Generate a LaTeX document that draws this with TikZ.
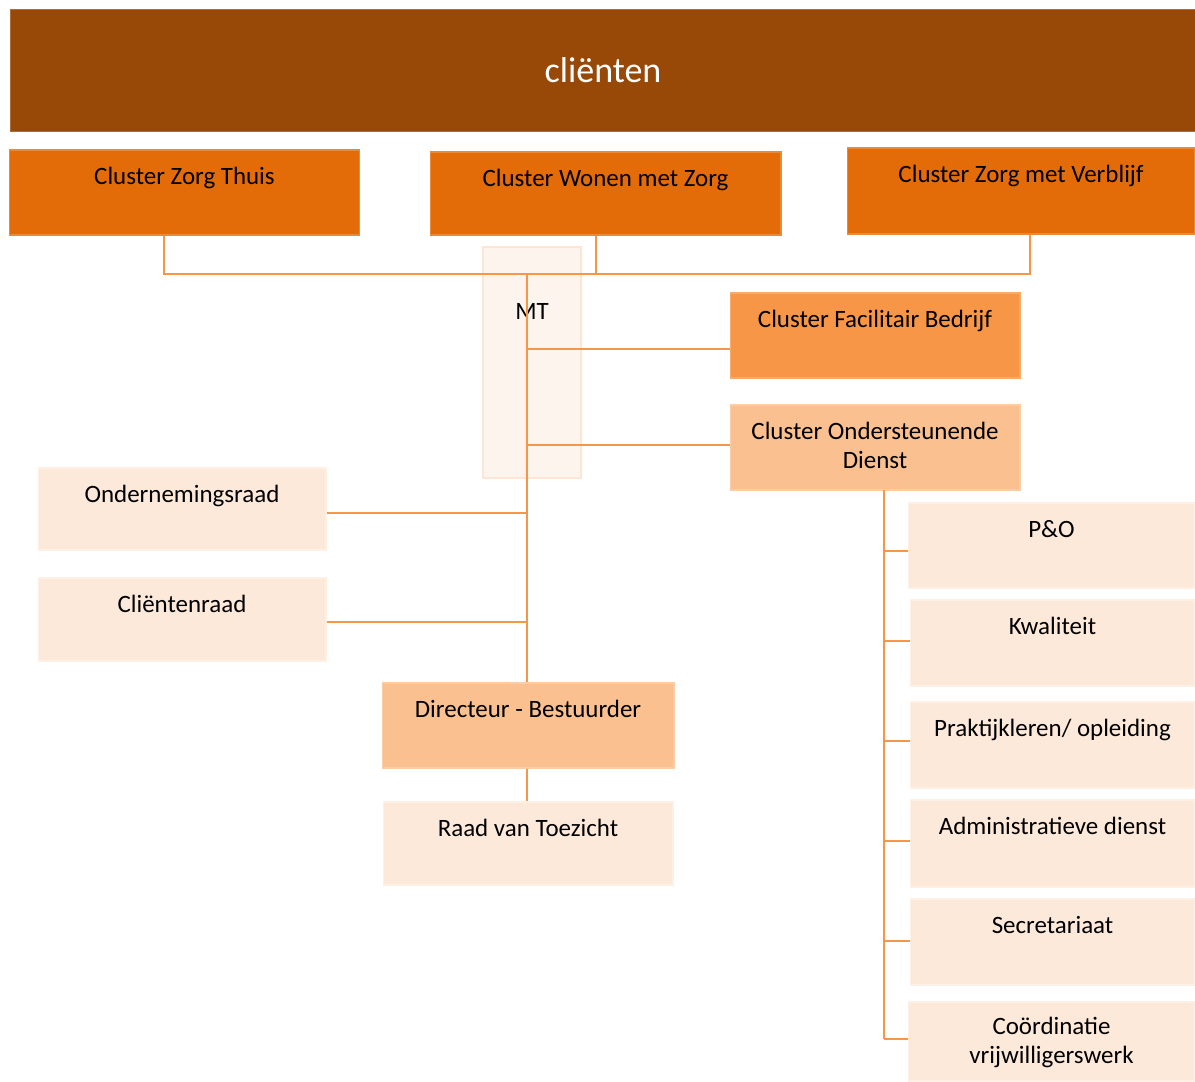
\documentclass[tikz,border=0pt]{standalone}
\usepackage{fontspec}
\setmainfont{Carlito}
\usepackage{tikz}
\usetikzlibrary{positioning}

\definecolor{bruin}{HTML}{984807}
\definecolor{oranje}{HTML}{E36C09}
\definecolor{middel}{HTML}{F79646}
\definecolor{licht}{HTML}{FAC090}
\definecolor{bleek}{HTML}{FDE9D9}
\definecolor{mtkleur}{HTML}{FEF4EE}

\begin{document}
\begin{tikzpicture}[
            x = 0.02cm, y = -0.02cm, % one unit = one pixel of the chart
            link/.style = {draw=middel, line width=0.9pt}, % connector lines
            box/.style = {rectangle, inner sep=0pt, align=flush center,
                          font=\fontsize{14.2}{17}\selectfont,
                          text height=0.68cm, line width=0.6pt},
            cluster/.style = {box, fill=oranje, draw=oranje!80!white},
            eenheid/.style = {box, fill=bleek, draw=bleek!70!white}
        ]

	\useasboundingbox (0,0) rectangle (1195,1081);

	% top row
	\node[rectangle, fill=bruin, draw=bruin!80!white, minimum width=23.72cm,
	      minimum height=2.44cm, text=white,
	      font=\fontsize{20.5}{24}\selectfont] (cl) at (603,70) {cliënten};

	\node[cluster, text width=7.02cm, text depth=1.02cm] (zt) at (184.5,192.5) {Cluster Zorg Thuis};
	\node[cluster, text width=7.02cm, text depth=0.98cm] (wz) at (605.5,193.5) {Cluster Wonen met Zorg};
	\node[cluster, text width=6.96cm, text depth=1.04cm] (zv) at (1021,191) {Cluster Zorg met Verblijf};

	% MT and clusters on the right
	\node[box, fill=mtkleur, draw=licht!40!white, text width=1.96cm,
	      text height=1.44cm, text depth=3.18cm] (mt) at (532,362.5) {MT};
	\node[box, fill=middel, draw=middel!80!white, text width=5.8cm, text depth=1.02cm] (fb) at (875,335.5) {Cluster Facilitair Bedrijf};
	\node[box, fill=licht, draw=licht!80!white, text width=5.8cm, text depth=1.02cm] (od) at (875,447.5) {Cluster Ondersteunende\\Dienst};

	% raden
	\node[eenheid, text width=5.76cm, text depth=0.96cm] (or) at (182,509) {Ondernemingsraad};
	\node[eenheid, text width=5.76cm, text depth=0.98cm] (cr) at (182,619.5) {Cliëntenraad};

	\node[box, fill=licht, draw=licht!80!white, text width=5.84cm, text depth=1.02cm] (db) at (528,725.5) {Directeur - Bestuurder};
	\node[eenheid, text width=5.8cm, text depth=0.98cm] (rt) at (528,843.5) {Raad van Toezicht};

	% ondersteunende diensten
	\node[eenheid, text width=5.74cm, text depth=1.02cm] (po) at (1051.5,545.5) {P\&O};
	\node[eenheid, text width=5.7cm, text depth=1.04cm] (kw) at (1052.5,643) {Kwaliteit};
	\node[eenheid, text width=5.7cm, text depth=1.04cm] (pk) at (1052.5,745) {Praktijkleren/ opleiding};
	\node[eenheid, text width=5.7cm, text depth=1.06cm] (ad) at (1052.5,843.5) {Administratieve dienst};
	\node[eenheid, text width=5.7cm, text depth=1.04cm] (se) at (1052.5,942) {Secretariaat};
	\node[eenheid, text width=5.74cm, text height=0.64cm, text depth=0.94cm] (co) at (1051.5,1041.5) {Coördinatie\\vrijwilligerswerk};

	% connector points
	\coordinate (sp) at (527,274);
	\coordinate (zt-b) at ([xshift=-0.41cm]zt.south);
	\coordinate (wz-b) at ([xshift=-0.19cm]wz.south);
	\coordinate (zv-b) at ([xshift=0.18cm]zv.south);
	\coordinate (od-b) at (884,490);

	\draw[link] (zt-b) |- (zv-b |- sp) -- (zv-b);
	\draw[link] (wz-b) -- (wz-b |- sp);
	\draw[link] (sp) -- (sp |- db.north);
	\draw[link] (fb.west |- 0,349) -- (sp |- 0,349);
	\draw[link] (od.west |- 0,445) -- (sp |- 0,445);
	\draw[link] (or.east |- 0,513) -- (sp |- 0,513);
	\draw[link] (cr.east |- 0,622) -- (sp |- 0,622);
	\draw[link] (db.south -| sp) -- (rt.north -| sp);

	\draw[link] (od-b) -- (od-b |- 0,1039);
	\foreach \n/\y in {po/551,kw/641,pk/741,ad/841,se/941,co/1039}
		\draw[link] (od-b |- 0,\y) -- (\n.west |- 0,\y);

\end{tikzpicture}
\end{document}
